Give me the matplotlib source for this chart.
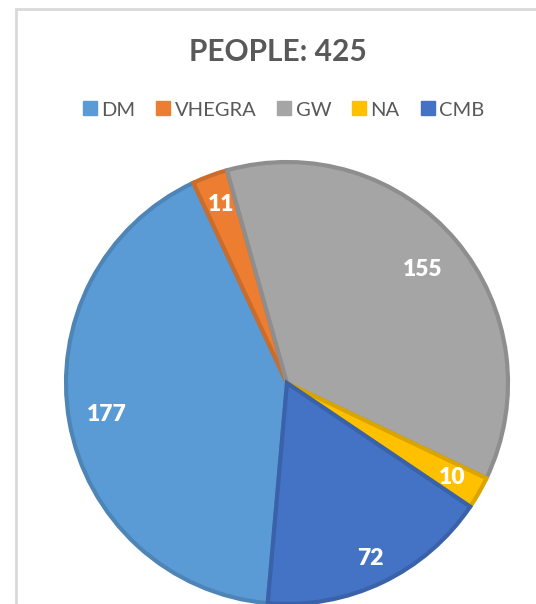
import numpy as np
import matplotlib
matplotlib.use("Agg")
import matplotlib.pyplot as plt
from matplotlib.patches import Rectangle
from matplotlib.lines import Line2D
from matplotlib.colors import to_rgb

plt.rcParams['font.family'] = ['Lato', 'DejaVu Sans']

categories = ['DM', 'VHEGRA', 'GW', 'NA', 'CMB']
people = [177, 11, 155, 10, 72]
colors = ['#5B9BD5', '#ED7D31', '#A5A5A5', '#FFC000', '#4472C4']
title = f'PEOPLE: {sum(people)}'

W, H = 536, 604
fig = plt.figure(figsize=(W / 100, H / 100), dpi=100)

# chart frame (only top and left edges fall inside the canvas)
fig.patches.append(Rectangle((16 / W, -0.1), 1.2, (H - 9) / H + 0.1,
                             transform=fig.transFigure, fill=False,
                             edgecolor='#d9d9d9', linewidth=2))

# pie axes: centre (287, 383) px, radius 221 px
cx, cy, r = 287, 383, 221
ax = fig.add_axes([(cx - r) / W, (H - cy - r) / H, 2 * r / W, 2 * r / H])
edge = [tuple(c * 0.86 for c in to_rgb(col)) for col in colors]
wedges, _ = ax.pie(people, colors=colors, startangle=-95, counterclock=False,
                   radius=1, wedgeprops=dict(linewidth=3))
for w, e in zip(wedges, edge):
    w.set_edgecolor(e)
ax.set_xlim(-1.0, 1.0)
ax.set_ylim(-1.0, 1.0)
ax.set_aspect('equal')
ax.axis('off')

# value labels inside each slice
label_r = [0.83, 0.86, 0.80, 0.86, 0.88]
for w, v, lr in zip(wedges, people, label_r):
    mid = np.deg2rad((w.theta1 + w.theta2) / 2)
    ax.text(lr * np.cos(mid), lr * np.sin(mid), str(v), color='white',
            fontsize=16.5, fontweight='heavy', ha='center', va='center')

fig.text(278 / W, 1 - 52 / H, title, ha='center', va='center',
         fontsize=21.5, fontweight='bold', color='#595959')

handles = [Line2D([], [], marker='s', linestyle='none', markersize=10,
                  markerfacecolor=c, markeredgecolor=c) for c in colors]
fig.legend(handles, categories, loc='center', bbox_to_anchor=(283 / W, 1 - 110 / H),
           ncol=5, frameon=False, fontsize=14.5, labelcolor='#595959',
           handletextpad=0.15, columnspacing=1.0, handlelength=0.8)

fig.savefig('out.png', dpi=100, facecolor='white')
